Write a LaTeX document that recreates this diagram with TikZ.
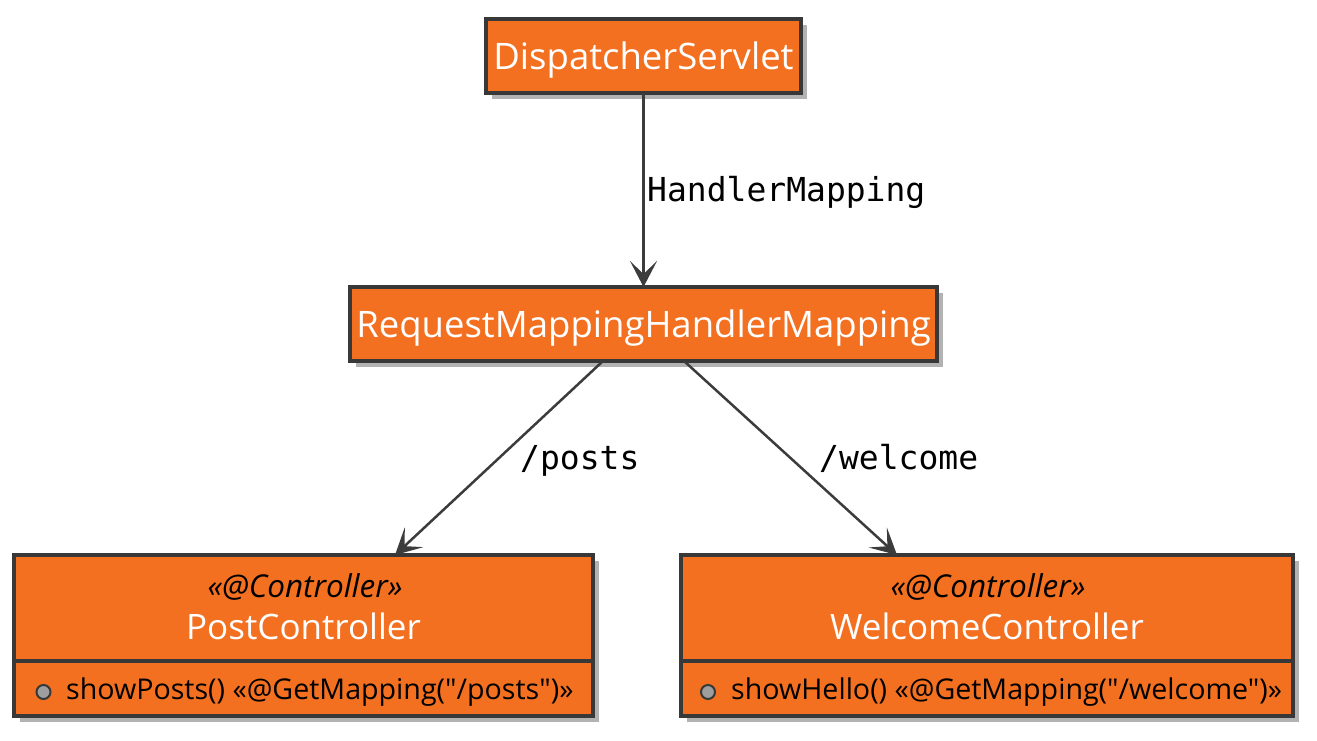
\documentclass[tikz,border=0pt]{standalone}
\usepackage{fontspec}
\setmainfont{Open Sans}
\newfontfamily\methfont{Open Sans}
\newfontfamily\lblfont{DejaVu Sans Mono}
\usetikzlibrary{positioning, arrows.meta, shadows}
\definecolor{boxorange}{HTML}{F37021}
\definecolor{boxedge}{HTML}{383838}
\definecolor{linegray}{HTML}{3C3C3C}

\begin{document}
\begin{tikzpicture}[x=1pt, y=-1pt,
        box/.style={draw=boxedge, line width=3.5pt, fill=boxorange, inner sep=0pt, outer sep=0pt,
            text=white, font=\fontsize{36.5}{40}\selectfont, text height=30pt, text depth=4pt,
            drop shadow={shadow xshift=6pt, shadow yshift=-6pt, fill=black!30, opacity=1}},
        ctitle/.style={text=white, inner sep=0pt, anchor=base, font=\fontsize{35}{40}\selectfont},
        stereo/.style={text=black, inner sep=0pt, anchor=base, font=\fontsize{31.5}{34}\selectfont\itshape},
        meth/.style={text=black, inner sep=0pt, anchor=base west, font=\methfont\fontsize{28.6}{32}\selectfont},
        dot/.style={circle, draw=boxedge, line width=2pt, fill=black!38, minimum size=14pt, inner sep=0pt},
        link/.style={draw=linegray, line width=2.5pt, -{Stealth[length=26pt, width=27pt, inset=13pt]}},
        lbl/.style={text=black, inner sep=0pt, anchor=base west, font=\lblfont\fontsize{33}{36}\selectfont}]
    \useasboundingbox (0,0) rectangle (1317,740);

    % top boxes
    \node[box, minimum width=315pt, minimum height=74pt] (ds) at (643.5,56) {DispatcherServlet};
    \node[box, minimum width=587pt, minimum height=74pt] (rm) at (643.5,324) {RequestMappingHandlerMapping};

    % controllers
    \node[box, minimum width=579pt, minimum height=161pt] (pc) at (303.5,635.5) {};
    \node[stereo] (pcst) at (305,597) {«@Controller»};
    \node[ctitle] (pcname) at (303.5,639) {PostController};
    \draw[boxedge, line width=3.5pt] ([yshift=55pt]pc.south west) -- ([yshift=55pt]pc.south east);
    \node[dot] (pcdot) at (43.5,692) {};
    \node[meth] (pcm) at (66,699) {showPosts() «@GetMapping("/posts")»};

    \node[box, minimum width=612pt, minimum height=161pt] (wc) at (987,635.5) {};
    \node[stereo] (wcst) at (988,597) {«@Controller»};
    \node[ctitle] (wcname) at (987,639) {WelcomeController};
    \draw[boxedge, line width=3.5pt] ([yshift=55pt]wc.south west) -- ([yshift=55pt]wc.south east);
    \node[dot] (wcdot) at (708,692) {};
    \node[meth] (wcm) at (731,699) {showHello() «@GetMapping("/welcome")»};

    % links
    \draw[link] (ds) -- (rm);
    \draw[link] ([xshift=-40.5pt]rm.south) -- ([xshift=91.5pt]pc.north);
    \draw[link] ([xshift=40.5pt]rm.south) -- ([xshift=-90pt]wc.north);
    \node[lbl] (hm) at (647,201) {HandlerMapping};
    \node[lbl] (posts) at (520,469) {/posts};
    \node[lbl] (welcome) at (819,469) {/welcome};
\end{tikzpicture}
\end{document}
